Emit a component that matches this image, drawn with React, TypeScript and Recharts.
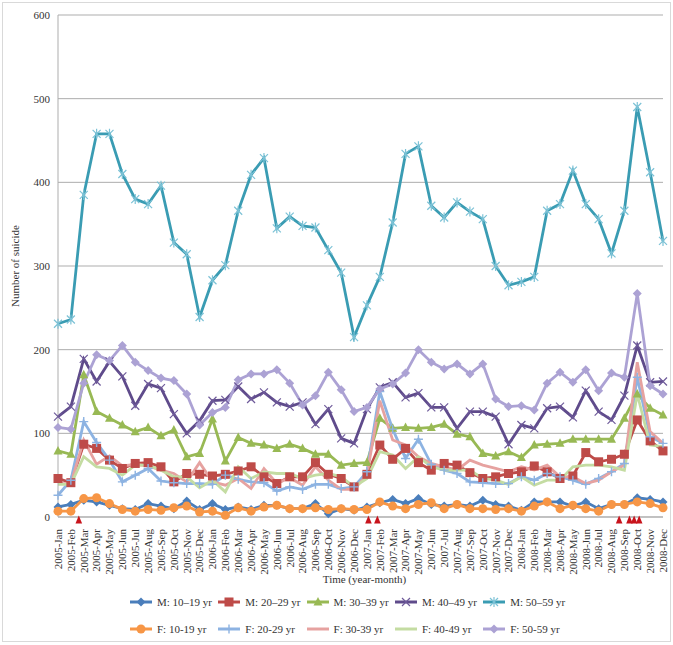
import React from 'react';
import { ComposedChart, Line, XAxis, YAxis, CartesianGrid, Scatter, Label } from 'recharts';

// ---------- data ----------
const months = [
  '2005-Jan','2005-Feb','2005-Mar','2005-Apr','2005-May','2005-Jun','2005-Jul','2005-Aug','2005-Sep','2005-Oct','2005-Nov','2005-Dec',
  '2006-Jan','2006-Feb','2006-Mar','2006-Apr','2006-May','2006-Jun','2006-Jul','2006-Aug','2006-Sep','2006-Oct','2006-Nov','2006-Dec',
  '2007-Jan','2007-Feb','2007-Mar','2007-Apr','2007-May','2007-Jun','2007-Jul','2007-Aug','2007-Sep','2007-Oct','2007-Nov','2007-Dec',
  '2008-Jan','2008-Feb','2008-Mar','2008-Apr','2008-May','2008-Jun','2008-Jul','2008-Aug','2008-Sep','2008-Oct','2008-Nov','2008-Dec',
];

const m10 = [12,15,20,18,14,10,9,16,13,10,19,9,16,9,12,9,14,14,10,10,16,4,10,8,12,17,21,16,22,15,13,15,13,20,15,13,8,18,18,18,13,18,10,15,15,23,21,18];
const m20 = [46,41,87,82,68,58,64,65,60,42,52,51,49,51,55,60,48,40,48,48,65,51,46,36,51,86,69,82,65,56,64,62,53,46,48,52,54,61,54,46,49,77,66,69,75,116,91,79];
const m30 = [79,75,170,126,118,110,102,107,97,104,72,76,117,67,95,88,86,82,87,82,75,75,62,64,65,118,106,107,106,107,111,99,96,76,73,78,71,86,87,88,93,93,93,93,118,147,130,122];
const m40 = [120,132,189,162,186,168,133,159,154,123,100,115,139,140,156,141,149,137,132,137,111,129,94,88,129,155,161,143,148,131,131,106,126,126,120,87,110,106,130,132,119,151,126,116,145,205,161,162];
const m50 = [231,236,385,458,458,410,380,374,396,328,314,239,283,301,366,409,429,345,359,348,346,319,292,215,253,287,352,434,443,372,358,376,365,356,300,277,281,287,366,374,414,374,356,315,366,490,412,330];
const f10 = [7,7,22,23,16,9,7,9,8,11,13,6,7,2,11,7,12,14,10,10,11,9,10,9,9,18,13,10,15,17,10,15,10,10,9,10,7,13,18,10,14,10,7,15,15,18,16,11];
const f20 = [26,44,114,89,68,42,50,58,43,41,40,40,39,50,45,42,41,31,36,33,39,39,34,36,54,150,105,70,93,63,56,52,42,41,40,40,48,44,52,48,44,39,46,54,64,167,96,88];
const f30 = [40,40,92,63,73,61,63,61,56,52,42,65,42,38,46,34,58,40,47,38,60,44,33,33,50,139,92,86,72,64,60,56,68,62,58,54,60,56,62,48,48,40,44,54,62,185,102,88];
const f40 = [39,39,72,60,58,50,62,62,56,48,48,35,44,30,60,46,54,52,52,46,50,52,48,36,46,78,74,58,72,60,56,56,56,46,44,39,48,38,44,44,60,62,62,60,56,147,86,84];
const f50 = [107,105,160,194,187,205,185,175,166,163,147,110,125,131,164,171,171,176,160,134,145,173,152,126,131,153,159,172,200,185,177,183,171,183,141,132,133,128,160,173,161,176,151,172,167,267,157,147];

// event markers (position in month-index units along the time axis)
const eventPositions = [1.15, 24.13, 24.84, 44.02, 44.84, 45.21, 45.61];

const yTicks = [0, 100, 200, 300, 400, 500, 600];

const seriesKeys = ['m10','m20','m30','m40','m50','f10','f20','f30','f40','f50'];
const seriesNames = ['M: 10\u201319 yr','M: 20\u201329 yr','M: 30\u201339 yr','M: 40\u201349 yr','M: 50\u201359 yr','F: 10-19 yr','F: 20-29 yr','F: 30-39 yr','F: 40-49 yr','F: 50-59 yr'];
const seriesValues = [m10, m20, m30, m40, m50, f10, f20, f30, f40, f50];

// ---------- styles ----------
const seriesColors = ['#4A7EBB','#BE4B48','#98B954','#5F4B8B','#3A9CB3','#F79646','#8DB3E2','#E6A2A0','#C4DCA2','#ACA2D4'];
const markerColors = ['#4A7EBB','#BE4B48','#98B954','#6E5A9A','#7CC2D6','#F79646','#8DB3E2','#E6A2A0','#C4DCA2','#ACA2D4'];
const seriesMarkers = ['diamond','square','triangle','x','star','circle','plus','none','none','diamond'];

const FONT = 'Liberation Serif, DejaVu Serif, Times New Roman, serif';
const GRID = '#ADADAD';
const TXT = '#333';

const data = months.map((m, i) => {
  const row: any = { month: m };
  seriesKeys.forEach((k, j) => { row[k] = seriesValues[j][i]; });
  return row;
});
const events = eventPositions.map((x) => ({ x, y: 0 }));

function Marker({ shape, cx, cy, color }: any) {
  switch (shape) {
    case 'diamond':
      return <path d={`M${cx},${cy - 4.5}L${cx + 4.5},${cy}L${cx},${cy + 4.5}L${cx - 4.5},${cy}Z`} fill={color} />;
    case 'square':
      return <rect x={cx - 4.5} y={cy - 4.5} width={9} height={9} fill={color} />;
    case 'triangle':
      return <path d={`M${cx},${cy - 5}L${cx + 4.5},${cy + 3.5}L${cx - 4.5},${cy + 3.5}Z`} fill={color} />;
    case 'circle':
      return <circle cx={cx} cy={cy} r={4.5} fill={color} />;
    case 'x':
      return <path d={`M${cx - 4},${cy - 4}L${cx + 4},${cy + 4}M${cx + 4},${cy - 4}L${cx - 4},${cy + 4}`} stroke={color} strokeWidth={1.2} fill="none" />;
    case 'star':
      return <path d={`M${cx - 4},${cy - 4}L${cx + 4},${cy + 4}M${cx + 4},${cy - 4}L${cx - 4},${cy + 4}M${cx},${cy - 5}L${cx},${cy + 5}`} stroke={color} strokeWidth={1.2} fill="none" />;
    case 'plus':
      return <path d={`M${cx - 4.5},${cy}L${cx + 4.5},${cy}M${cx},${cy - 4.5}L${cx},${cy + 4.5}`} stroke={color} strokeWidth={1.4} fill="none" />;
    default:
      return <g />;
  }
}

const makeDot = (shape: string, color: string, key: string) => (props: any) => {
  const { cx, cy, index } = props;
  if (cx == null || cy == null) return <g key={`${key}-${index}`} />;
  return (
    <g key={`${key}-${index}`}>
      <Marker shape={shape} cx={cx} cy={cy} color={color} />
    </g>
  );
};

const XTick = (props: any) => {
  const { x, y, payload, index } = props;
  const off = payload && typeof payload.offset === 'number' ? payload.offset : 0;
  return (
    <g transform={`translate(${x},${y})`}>
      {off > 0 && <line x1={-off} y1={0} x2={-off} y2={4} stroke={GRID} />}
      {off > 0 && index === months.length - 1 && <line x1={off} y1={0} x2={off} y2={4} stroke={GRID} />}
      <text transform="rotate(-90)" x={-4} y={0} dy="0.35em" textAnchor="end" fontSize={11} fill={TXT} fontFamily={FONT}>
        {payload.value}
      </text>
    </g>
  );
};

const EventTriangle = (props: any) => {
  const { cx, cy } = props;
  if (cx == null || cy == null) return <g />;
  return <path d={`M${cx},${cy - 1.5}L${cx + 3.3},${cy + 6.5}L${cx - 3.3},${cy + 6.5}Z`} fill="#C8141C" />;
};

function LegendIcon({ i }: { i: number }) {
  return (
    <svg width={22} height={12} style={{ display: 'block' }}>
      <line x1={0} y1={6} x2={22} y2={6} stroke={seriesColors[i]} strokeWidth={3} />
      <Marker shape={seriesMarkers[i]} cx={11} cy={6} color={markerColors[i]} />
    </svg>
  );
}

export default function App() {
  return (
    <div style={{ position: 'absolute', left: 0, top: 0, width: 673, height: 645, background: '#fff', fontFamily: FONT }}>
      <div style={{ position: 'absolute', left: 2, top: 2, width: 667, height: 638, border: '1px solid #D9D9D9' }} />
      <div style={{ position: 'absolute', left: 0, top: 0 }}>
        <ComposedChart width={673} height={645} data={data} margin={{ top: 15, right: 10, bottom: 0, left: 0 }}>
          <CartesianGrid vertical={false} stroke={GRID} strokeWidth={1} />
          <XAxis
            dataKey="month"
            interval={0}
            tickLine={false}
            axisLine={{ stroke: GRID }}
            height={128}
            tick={<XTick />}
          >
            <Label
              content={(p: any) => {
                const vb = p.viewBox || {};
                return (
                  <text x={vb.x + vb.width / 2 + 4} y={vb.y + 66} textAnchor="middle" fontSize={11} fill={TXT} fontFamily={FONT}>
                    Time (year-month)
                  </text>
                );
              }}
            />
          </XAxis>
          <XAxis xAxisId="ev" type="number" dataKey="x" domain={[-0.5, months.length - 0.5]} hide allowDataOverflow />
          <YAxis
            domain={[0, 600]}
            ticks={yTicks}
            width={58}
            tickLine={false}
            axisLine={{ stroke: GRID }}
            tick={{ fontSize: 11, fill: TXT, fontFamily: FONT }}
          >
            <Label
              content={(p: any) => {
                const vb = p.viewBox || {};
                const cx = vb.x + 15;
                const cy = vb.y + vb.height / 2;
                return (
                  <text x={cx} y={cy} transform={`rotate(-90 ${cx} ${cy})`} textAnchor="middle" dy="0.35em" fontSize={11} fill={TXT} fontFamily={FONT}>
                    Number of suicide
                  </text>
                );
              }}
            />
          </YAxis>
          {seriesKeys.map((k, i) => (
            <Line
              key={k}
              type="linear"
              dataKey={k}
              name={seriesNames[i]}
              stroke={seriesColors[i]}
              strokeWidth={2.8}
              dot={seriesMarkers[i] === 'none' ? false : makeDot(seriesMarkers[i], markerColors[i], k)}
              activeDot={false}
              isAnimationActive={false}
            />
          ))}
          <Scatter xAxisId="ev" data={events} dataKey="y" shape={<EventTriangle />} isAnimationActive={false} />
        </ComposedChart>
      </div>
      <div
        style={{
          position: 'absolute',
          left: 130,
          top: 588.5,
          display: 'grid',
          gridTemplateColumns: 'repeat(5, 88.3px)',
          gridAutoRows: '27px',
          fontSize: 11,
          color: TXT,
          fontFamily: FONT,
        }}
      >
        {seriesKeys.map((k, i) => (
          <div key={k} style={{ display: 'flex', alignItems: 'center', whiteSpace: 'nowrap' }}>
            <LegendIcon i={i} />
            <span style={{ marginLeft: 5 }}>{seriesNames[i]}</span>
          </div>
        ))}
      </div>
    </div>
  );
}
